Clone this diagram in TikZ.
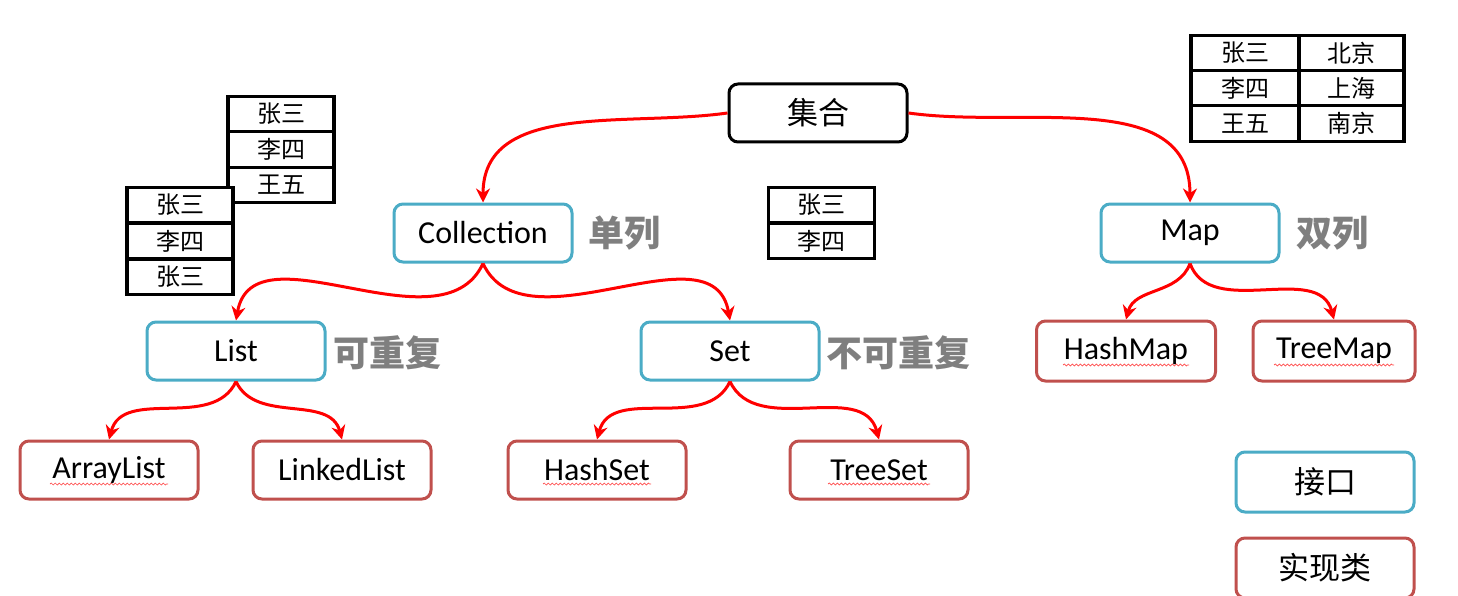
\documentclass[tikz,border=0pt]{standalone}
\usepackage{fontspec}
\setmainfont{Carlito}
\newfontfamily\cjk{Noto Sans CJK SC}
\usetikzlibrary{arrows.meta,calc,decorations.pathmorphing}
\definecolor{ifc}{HTML}{4BACC6}
\definecolor{imc}{HTML}{C0504D}
\definecolor{tagc}{HTML}{7F7F7F}
\begin{document}
\begin{tikzpicture}[x=1pt,y=1pt,
 box/.style={draw,rounded corners=9pt,line width=3pt,minimum width=178pt,minimum height=58pt,fill=white,inner sep=0pt,font=\fontsize{32}{36}\selectfont},
 iface/.style={box,draw=ifc},
 impl/.style={box,draw=imc},
 root/.style={box,draw=black,font=\cjk\fontsize{31}{34}\selectfont},
 tag/.style={text=tagc,font=\cjk\bfseries\fontsize{36}{40}\selectfont,anchor=west,inner sep=0pt},
 arr/.style={draw=red,line width=3pt,-{Stealth[length=14pt,width=14pt]}},
 cell/.style={draw=black,line width=3.2pt,minimum width=106pt,minimum height=35.5pt,inner sep=0pt,fill=white,font=\cjk\fontsize{24}{26}\selectfont},
 squig/.style={draw=red!70,line width=0.7pt,decorate,decoration={snake,amplitude=1pt,segment length=4pt}}
]
\useasboundingbox (0,0) rectangle (1458,-596);

% tables
\node[cell] (ta1) at (281,-114) {张三};
\node[cell] (ta2) at (281,-149.5) {李四};
\node[cell] (ta3) at (281,-185) {王五};
\node[cell] (tb1) at (180,-205) {张三};
\node[cell] (tb2) at (180,-241) {李四};
\node[cell] (tb3) at (180,-277) {张三};
\node[cell] (tc1) at (821.5,-205) {张三};
\node[cell] (tc2) at (821.5,-241) {李四};
\node[cell,minimum width=108pt] (td1) at (1245,-53) {张三};
\node[cell,minimum width=108pt] (td2) at (1245,-88.5) {李四};
\node[cell,minimum width=108pt] (td3) at (1245,-123.5) {王五};
\node[cell,minimum width=105pt] (te1) at (1351.5,-53) {北京};
\node[cell,minimum width=105pt] (te2) at (1351.5,-88.5) {上海};
\node[cell,minimum width=105pt] (te3) at (1351.5,-123.5) {南京};

% nodes
\node[root] (root) at (818,-113) {集合};
\node[iface] (coll) at (483,-233) {Collection};
\node[iface] (map) at (1190,-233) {Map};
\node[iface] (list) at (236,-351) {List};
\node[iface] (set) at (730,-351) {Set};
\node[impl,minimum width=179pt,minimum height=60pt] (hm) at (1126,-351) {HashMap};
\node[impl,minimum width=162pt,minimum height=60pt] (tm) at (1334,-351) {TreeMap};
\node[impl] (al) at (109,-470) {ArrayList};
\node[impl] (ll) at (342,-470) {LinkedList};
\node[impl] (hs) at (597,-470) {HashSet};
\node[impl] (ts) at (879,-470) {TreeSet};
\node[iface,minimum height=60pt,font=\cjk\fontsize{31}{36}\selectfont] (lg1) at (1325,-482) {接口};
\node[impl,minimum height=60pt,font=\cjk\fontsize{31}{36}\selectfont] (lg2) at (1325,-568) {实现类};

% tags
\node[tag] (t1) at (588,-233) {单列};
\node[tag] (t2) at (1296,-233) {双列};
\node[tag] (t3) at (333,-353) {可重复};
\node[tag] (t4) at (826,-353) {不可重复};

% connectors
\draw[arr] (root.west) to[out=188,in=90] (coll.north);
\draw[arr] (root.east) to[out=-8,in=90] (map.north);
\draw[arr] (coll.south) to[out=-115,in=80] (list.north);
\draw[arr] (coll.south) to[out=-65,in=100] (set.north);
\draw[arr] (list.south) to[out=-115,in=75] (al.north);
\draw[arr] (list.south) to[out=-65,in=105] (ll.north);
\draw[arr] (set.south) to[out=-115,in=75] (hs.north);
\draw[arr] (set.south) to[out=-65,in=105] (ts.north);
\draw[arr] (map.south) to[out=-110,in=75] (hm.north);
\draw[arr] (map.south) to[out=-70,in=105] (tm.north);

% spell-check underlines
\draw[squig] ($(al.center)+(-59,-14)$) -- ++(118,0);
\draw[squig] ($(hs.center)+(-54,-14)$) -- ++(108,0);
\draw[squig] ($(ts.center)+(-51,-14)$) -- ++(102,0);
\draw[squig] ($(hm.center)+(-63,-14)$) -- ++(126,0);
\draw[squig] ($(tm.center)+(-60,-14)$) -- ++(120,0);
\end{tikzpicture}
\end{document}
